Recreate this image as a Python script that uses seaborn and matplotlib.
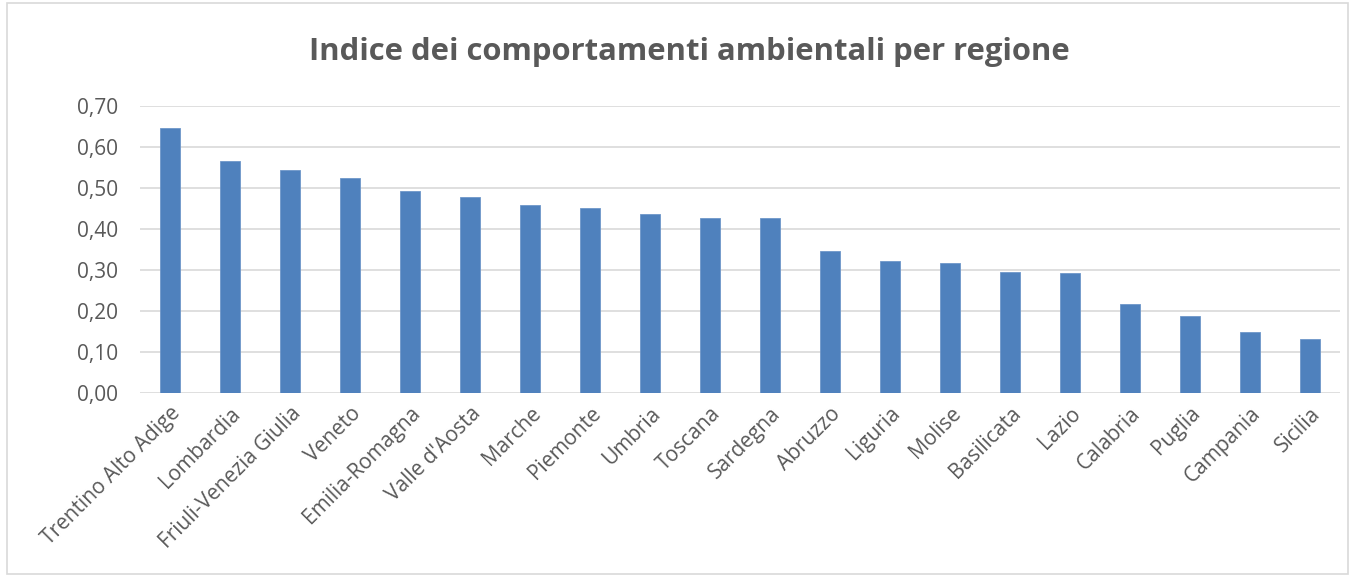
import matplotlib
matplotlib.use("Agg")
import matplotlib.pyplot as plt
import matplotlib.ticker as mticker
import seaborn as sns
import pandas as pd

regioni = [
    "Trentino Alto Adige", "Lombardia", "Friuli-Venezia Giulia", "Veneto",
    "Emilia-Romagna", "Valle d'Aosta", "Marche", "Piemonte", "Umbria",
    "Toscana", "Sardegna", "Abruzzo", "Liguria", "Molise", "Basilicata",
    "Lazio", "Calabria", "Puglia", "Campania", "Sicilia",
]
indice = [
    0.646, 0.565, 0.544, 0.524, 0.492, 0.479, 0.458, 0.452, 0.438, 0.428,
    0.426, 0.347, 0.322, 0.317, 0.295, 0.294, 0.218, 0.189, 0.150, 0.132,
]
y_ticks = [0.0, 0.1, 0.2, 0.3, 0.4, 0.5, 0.6, 0.7]

df = pd.DataFrame({"regione": regioni, "indice": indice})

sns.set_theme(style="white")
plt.rcParams["font.family"] = ["Open Sans", "DejaVu Sans"]

grey_text = "#595959"
grid_col = "#d9d9d9"

fig = plt.figure(figsize=(13.5, 5.79), dpi=100)
ax = fig.add_axes([0.1037, 0.3207, 0.8889, 0.4962])

sns.barplot(data=df, x="regione", y="indice", color="#4f81bd",
            width=0.32, saturation=1, ax=ax, zorder=3,
            edgecolor="#6f97c9", linewidth=0.6)

ax.set_ylim(0, 0.7)
ax.set_xlim(-0.5, len(regioni) - 0.5)
ax.set_yticks(y_ticks)
ax.yaxis.set_major_formatter(mticker.FuncFormatter(lambda v, p: f"{v:.2f}".replace(".", ",")))
ax.grid(axis="y", color=grid_col, linewidth=1.2, zorder=0)
ax.grid(axis="x", visible=False)
for s in ax.spines.values():
    s.set_visible(False)
ax.tick_params(axis="both", length=0, colors=grey_text, labelsize=15)
ax.tick_params(axis="y", pad=16)
ax.set_xlabel("")
ax.set_ylabel("")
plt.setp(ax.get_xticklabels(), rotation=45, ha="right", rotation_mode="anchor")
ax.tick_params(axis="x", pad=7)

fig.text(0.5 * (310 + 1068) / 1350, 1 - 52 / 579,
         "Indice dei comportamenti ambientali per regione",
         ha="center", va="center", fontsize=22.3, fontweight="bold", color=grey_text)

# light frame around the chart area
frame = plt.Rectangle((7 / 1350, 5 / 579), 1 - 9 / 1350, 1 - 8 / 579,
                      transform=fig.transFigure, fill=False,
                      edgecolor=grid_col, linewidth=1.2)
fig.patches.append(frame)

fig.savefig("out.png", dpi=100, facecolor="white")
